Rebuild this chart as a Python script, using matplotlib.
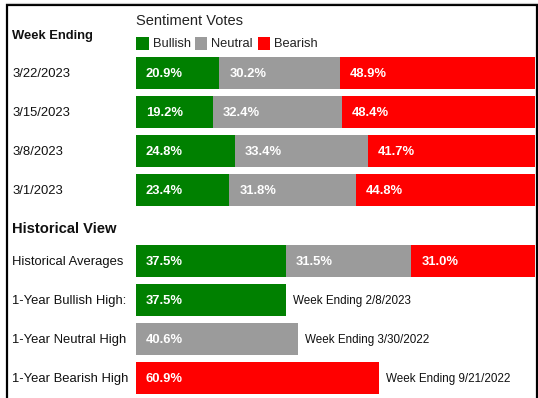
import matplotlib
matplotlib.use("Agg")
import matplotlib.pyplot as plt
from matplotlib.patches import Rectangle
from matplotlib.lines import Line2D

plt.rcParams['font.family'] = ['Liberation Sans', 'DejaVu Sans']

# ---- data ----
weeks = ['3/22/2023', '3/15/2023', '3/8/2023', '3/1/2023']
bullish = [20.9, 19.2, 24.8, 23.4]
neutral = [30.2, 32.4, 33.4, 31.8]
bearish = [48.9, 48.4, 41.7, 44.8]

hist_label = 'Historical Averages'
hist_avg = [37.5, 31.5, 31.0]  # bullish, neutral, bearish

high_labels = ['1-Year Bullish High:', '1-Year Neutral High', '1-Year Bearish High']
high_values = [37.5, 40.6, 60.9]
high_weeks = ['Week Ending 2/8/2023', 'Week Ending 3/30/2022', 'Week Ending 9/21/2022']

series_names = ['Bullish', 'Neutral', 'Bearish']
colors = ['#008000', '#9b9b9b', '#ff0000']

# ---- layout ----
W, H = 538, 398
fig = plt.figure(figsize=(W / 100, H / 100), dpi=100)
fig.patch.set_facecolor('white')

x0, x1 = 136, 535
ax = fig.add_axes([x0 / W, 0, (x1 - x0) / W, 1])
ax.set_xlim(0, 100)
ax.set_ylim(H, 0)
ax.axis('off')

px = 100 / (x1 - x0)  # percent per pixel
label_x = (12 - x0) * px

week_y = [73, 112, 151, 190]
hist_y = 260.5
high_y = [299.5, 338.5, 377.5]
bar_h = 32
dy = 1.2  # text baseline nudge (pixels)

lab_fs = 9.4
val_fs = 9.4

# weekly stacked bars
for i, (wk, y) in enumerate(zip(weeks, week_y)):
    vals = [bullish[i], neutral[i], bearish[i]]
    left = 0
    for v, c in zip(vals, colors):
        ax.barh(y, v, left=left, height=bar_h, color=c, linewidth=0)
        ax.text(left + 10 * px, y + dy, f'{v:.1f}%', color='white', fontsize=val_fs,
                fontweight='bold', va='center', ha='left')
        left += v
    ax.text(label_x, y + dy, wk, fontsize=lab_fs, va='center', ha='left', color='#111111', clip_on=False)

# historical averages
left = 0
for v, c in zip(hist_avg, colors):
    ax.barh(hist_y, v, left=left, height=bar_h, color=c, linewidth=0)
    ax.text(left + 10 * px, hist_y + dy, f'{v:.1f}%', color='white', fontsize=val_fs,
            fontweight='bold', va='center', ha='left')
    left += v
ax.text(label_x, hist_y + dy, hist_label, fontsize=lab_fs, va='center', ha='left', color='#111111', clip_on=False)

# 1-year highs
for lab, v, wk, y, c in zip(high_labels, high_values, high_weeks, high_y, colors):
    ax.barh(y, v, left=0, height=bar_h, color=c, linewidth=0)
    ax.text(10 * px, y + dy, f'{v:.1f}%', color='white', fontsize=val_fs,
            fontweight='bold', va='center', ha='left')
    ax.text(v + 7 * px, y + dy, wk, fontsize=8.4, va='center', ha='left', color='#111111')
    ax.text(label_x, y + dy, lab, fontsize=lab_fs, va='center', ha='left', color='#111111', clip_on=False)

# headings
def fx(x):
    return x / W

def fy(y):
    return 1 - y / H

fig.text(fx(12), fy(36.5), 'Week Ending', fontsize=9.4, fontweight='bold', va='center', ha='left', color='#111111')
fig.text(fx(12), fy(229), 'Historical View', fontsize=10.6, fontweight='bold', va='center', ha='left', color='#111111')
fig.text(fx(136), fy(21), 'Sentiment Votes', fontsize=10.5, va='center', ha='left', color='#222222')

# legend
leg_sq_x = [136, 194.5, 257.5]
for name, c, sx in zip(series_names, colors, leg_sq_x):
    fig.add_artist(Rectangle((fx(sx), fy(49.5)), 12.5 / W, 12 / H, transform=fig.transFigure,
                             facecolor=c, edgecolor='none'))
    fig.text(fx(sx + 16.5), fy(44), name, fontsize=9.3, va='center', ha='left', color='#222222')

# border
fig.add_artist(Line2D([fx(7), fx(7), fx(536.5), fx(536.5)], [fy(400), fy(5), fy(5), fy(400)],
                      transform=fig.transFigure, color='black', linewidth=1.6, solid_joinstyle='miter'))
fig.add_artist(Line2D([fx(6), fx(537)], [fy(3.2), fy(3.2)], transform=fig.transFigure,
                      color='#c8c8c8', linewidth=0.8))

fig.savefig('out.png', dpi=100)
